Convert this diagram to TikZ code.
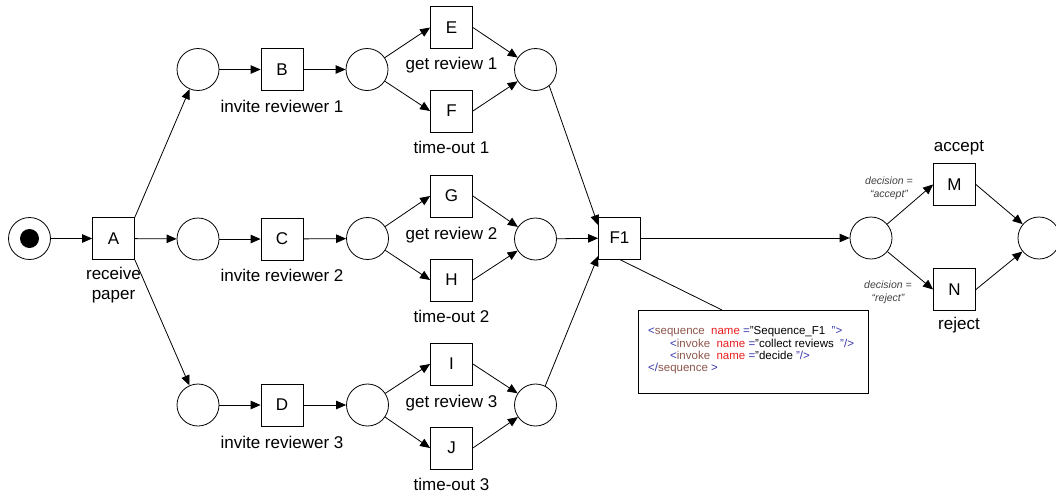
\documentclass[tikz,border=0pt]{standalone}
\usepackage{fontspec}
\setmainfont{Liberation Sans}
\usetikzlibrary{arrows.meta}
\definecolor{xtag}{RGB}{50,50,170}
\definecolor{xel}{RGB}{140,85,75}
\definecolor{xat}{RGB}{235,30,30}
\begin{document}
\begin{tikzpicture}[x=1pt,y=-1pt,
 every node/.style={font=\fontsize{17}{20}\selectfont},
 place/.style={draw, circle, minimum size=42pt, inner sep=0pt, line width=0.8pt},
 trans/.style={draw, rectangle, minimum size=42pt, inner sep=0pt, line width=0.8pt},
 lbl/.style={inner sep=0pt, align=center},
 arr/.style={-{Triangle[length=10pt,width=8.5pt]}, line width=0.8pt},
 ln/.style={line width=0.8pt},
 dec/.style={font=\fontsize{10.5}{13}\selectfont\itshape, align=center, inner sep=0pt, text=black!75},
 codetxt/.style={font=\fontsize{11.5}{12.4}\selectfont, align=left, inner sep=0pt, anchor=west}
]
\useasboundingbox (0,0) rectangle (1056,496);
% start
\node[place] (s) at (29.5,238.5) {};
\node[circle, fill, minimum size=19pt, inner sep=0pt] (tok) at (s) {};
\node[trans] (A) at (113.5,238.5) {A};
\node[lbl] (lA) at (113.5,285) {receive\\paper};
% row 1
\node[place] (p1) at (198,69.5) {};
\node[trans] (B) at (282,69.5) {B};
\node[lbl] (lB) at (282,106) {invite reviewer 1};
\node[place] (q1) at (367,69.5) {};
\node[trans] (E) at (451.5,27.5) {E};
\node[lbl] (lE) at (451.5,65) {get review 1};
\node[trans] (F) at (451.5,111) {F};
\node[lbl] (lF) at (451.5,147) {time-out 1};
\node[place] (m1) at (535.5,69.5) {};
% row 2
\node[place] (p2) at (198,239) {};
\node[trans] (C) at (282,239) {C};
\node[lbl] (lC) at (282,275) {invite reviewer 2};
\node[place] (q2) at (367.5,238.5) {};
\node[trans] (G) at (451.5,196) {G};
\node[lbl] (lG) at (451.5,235) {get review 2};
\node[trans] (H) at (451.5,280) {H};
\node[lbl] (lH) at (451.5,316) {time-out 2};
\node[place] (m2) at (535.5,239) {};
% row 3
\node[place] (p3) at (198,405) {};
\node[trans] (D) at (282,405) {D};
\node[lbl] (lD) at (282,442) {invite reviewer 3};
\node[place] (q3) at (367.5,405) {};
\node[trans] (I) at (451.5,364) {I};
\node[lbl] (lI) at (451.5,403) {get review 3};
\node[trans] (J) at (451.5,448) {J};
\node[lbl] (lJ) at (451.5,484) {time-out 3};
\node[place] (m3) at (535.5,405) {};
% F1 and decision
\node[trans] (F1) at (619.5,238) {F1};
\node[place] (pd) at (871,238) {};
\node[trans] (M) at (954.5,184.5) {M};
\node[lbl] (lM) at (959,148) {accept};
\node[trans] (N) at (954.5,289.5) {N};
\node[lbl] (lN) at (959,325) {reject};
\node[place] (e) at (1039,238) {};
\node[dec] (dM) at (889,188.5) {decision =\\“accept”};
\node[dec] (dN) at (888,292) {decision =\\“reject”};
% code box
\node[draw, line width=0.8pt, minimum width=230pt, minimum height=83pt, inner sep=0pt] (code) at (753,351.5) {};
\node[codetxt] (codet) at (648,350.5) {%
\textcolor{xtag}{<}\textcolor{xel}{sequence}~~\textcolor{xat}{name}~\textcolor{xtag}{=}"Sequence\_F1~~\textcolor{xtag}{">}\\
\hspace*{22pt}\textcolor{xtag}{<}\textcolor{xel}{invoke}~~\textcolor{xat}{name}~\textcolor{xtag}{=}"collect reviews~~\textcolor{xtag}{"/>}\\
\hspace*{22pt}\textcolor{xtag}{<}\textcolor{xel}{invoke}~~\textcolor{xat}{name}~\textcolor{xtag}{=}"decide~\textcolor{xtag}{"/>}\\
\textcolor{xtag}{</}\textcolor{xel}{sequence}~\textcolor{xtag}{>}};
\coordinate (ct) at (722,310);
% connectors
\draw[arr] (s) -- (A);
\draw[arr] (A.north east) -- (p1);
\draw[arr] (A) -- (p2);
\draw[arr] (A.south east) -- (p3);
\foreach \p/\t/\q/\u/\v/\m in {p1/B/q1/E/F/m1, p2/C/q2/G/H/m2, p3/D/q3/I/J/m3}{
  \draw[arr] (\p) -- (\t);
  \draw[arr] (\t) -- (\q);
  \draw[arr] (\q) -- (\u.west);
  \draw[arr] (\q) -- (\v.west);
  \draw[arr] (\u.east) -- (\m);
  \draw[arr] (\v.east) -- (\m);
}
\draw[arr] (m1.-50) -- (F1.149);
\draw[arr] (m2) -- (F1);
\draw[arr] (m3.63) -- (F1.220);
\draw[arr] (F1) -- (pd);
\draw[arr] (pd) -- (M.west);
\draw[arr] (pd) -- (N.west);
\draw[arr] (M.east) -- (e);
\draw[arr] (N.east) -- (e);
\draw[ln] (F1.south) -- (ct);
\end{tikzpicture}
\end{document}
